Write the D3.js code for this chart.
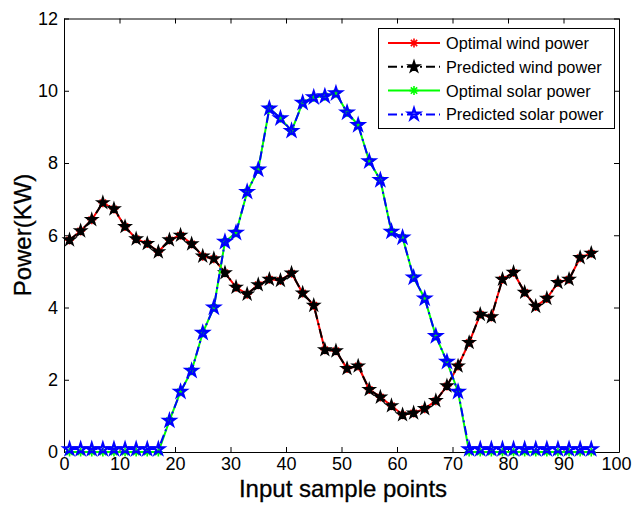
<!DOCTYPE html>
<html>
<head>
<meta charset="utf-8">
<script src="https://cdn.jsdelivr.net/npm/d3@7/dist/d3.min.js"></script>
<style>
  html, body { margin: 0; padding: 0; background: #fff; }
  svg { display: block; font-family: "Liberation Sans", Arial, Helvetica, sans-serif; }
</style>
</head>
<body>
<svg id="chart" width="633" height="507"></svg>
<script>
// ---- Data ----
const samplePoints = d3.range(1, 96, 2); // 1,3,...,95 (48 points)

const optimalWind = [5.87, 6.12, 6.43, 6.9, 6.73, 6.24, 5.9, 5.77, 5.54, 5.87,
  6.0, 5.76, 5.42, 5.35, 4.96, 4.56, 4.37, 4.63, 4.78, 4.75,
  4.95, 4.4, 4.06, 2.83, 2.8, 2.31, 2.38, 1.73, 1.52, 1.28,
  1.03, 1.08, 1.2, 1.42, 1.83, 2.38, 3.03, 3.81, 3.74, 4.78,
  4.97, 4.42, 4.03, 4.25, 4.69, 4.78, 5.38, 5.5];
const predictedWind = optimalWind.slice();

const optimalSolar = [0, 0, 0, 0, 0, 0, 0, 0, 0, 0.87,
  1.67, 2.25, 3.3, 4.0, 5.82, 6.07, 7.2, 7.82, 9.51, 9.24,
  8.89, 9.67, 9.82, 9.85, 9.93, 9.4, 9.05, 8.05, 7.53, 6.1,
  5.94, 4.83, 4.25, 3.21, 2.5, 1.67, 0, 0, 0, 0,
  0, 0, 0, 0, 0, 0, 0, 0];
const predictedSolar = optimalSolar.map(v => v === 0 ? 0.08 : v);

const xTicks = d3.range(0, 101, 10);
const yTicks = d3.range(0, 13, 2);
const legendLabels = ["Optimal wind power", "Predicted wind power", "Optimal solar power", "Predicted solar power"];
const xLabel = "Input sample points";
const yLabel = "Power(KW)";

// ---- Layout ----
const svg = d3.select("#chart");
const L = 64, R = 619, T = 18.5, B = 452;
const x = d3.scaleLinear().domain([0, 100]).range([L, R]);
const y = d3.scaleLinear().domain([0, 12]).range([B, T]);

// axes (inward ticks)
const axB = svg.append("g").attr("transform", `translate(0,${B})`)
  .call(d3.axisBottom(x).tickValues(xTicks).tickSize(-5).tickSizeOuter(0).tickPadding(5));
const axL = svg.append("g").attr("transform", `translate(${L},0)`)
  .call(d3.axisLeft(y).tickValues(yTicks).tickSize(-5).tickSizeOuter(0).tickPadding(6));
svg.append("g").attr("transform", `translate(0,${T})`)
  .call(d3.axisTop(x).tickValues(xTicks).tickSize(-5).tickSizeOuter(0).tickFormat(""));
svg.append("g").attr("transform", `translate(${R},0)`)
  .call(d3.axisRight(y).tickValues(yTicks).tickSize(-5).tickSizeOuter(0).tickFormat(""));
svg.selectAll(".domain").attr("stroke", "#000");
svg.selectAll(".tick line").attr("stroke", "#000");
[axB, axL].forEach(a => a.selectAll("text")
  .attr("font-size", 18).attr("fill", "#000")
  .attr("font-family", "Liberation Sans, Arial, sans-serif"));
axB.selectAll(".tick text").filter(d => d === 100).attr("dx", "-3");

// axis labels
svg.append("text").attr("x", 343).attr("y", 497).attr("text-anchor", "middle")
  .attr("font-size", 24).attr("fill", "#000").attr("stroke", "#000").attr("stroke-width", 0.3).text(xLabel);
svg.append("text").attr("transform", `translate(31,235) rotate(-90)`).attr("text-anchor", "middle")
  .attr("font-size", 24).attr("fill", "#000").attr("stroke", "#000").attr("stroke-width", 0.3).text(yLabel);

// ---- Series ----
const line = d3.line().x((d, i) => x(samplePoints[i])).y(d => y(d));
const dashDot = "9,4,2,4";
const star = d3.symbol().type(d3.symbolStar).size(40);
const asterisk = r => {
  let p = "";
  for (let k = 0; k < 4; k++) {
    const a = k * Math.PI / 4;
    p += `M${-r * Math.cos(a)},${-r * Math.sin(a)}L${r * Math.cos(a)},${r * Math.sin(a)}`;
  }
  return p;
};

const series = [
  { data: optimalWind, color: "#ff0000", dash: null, marker: "ast" },
  { data: predictedWind, color: "#000000", dash: dashDot, marker: "starFill" },
  { data: optimalSolar, color: "#00ff00", dash: null, marker: "ast" },
  { data: predictedSolar, color: "#0000ff", dash: dashDot, marker: "starOpen" }
];

function drawMarker(g, type, color) {
  if (type === "ast") {
    g.append("path").attr("d", asterisk(4.5)).attr("stroke", color).attr("stroke-width", 1.6).attr("fill", "none");
  } else if (type === "starFill") {
    g.append("path").attr("d", star()).attr("fill", color).attr("stroke", color).attr("stroke-width", 1.5);
  } else {
    g.append("path").attr("d", star()).attr("fill", "none").attr("stroke", color).attr("stroke-width", 2.2);
  }
}

series.forEach(s => {
  svg.append("path").datum(s.data).attr("d", line)
    .attr("fill", "none").attr("stroke", s.color).attr("stroke-width", 2)
    .attr("stroke-dasharray", s.dash);
  s.data.forEach((v, i) => {
    const g = svg.append("g").attr("transform", `translate(${x(samplePoints[i])},${y(v)})`);
    drawMarker(g, s.marker, s.color);
  });
});

// ---- Legend ----
const lg = svg.append("g");
lg.append("rect").attr("x", 378.5).attr("y", 28.5).attr("width", 236).attr("height", 100)
  .attr("fill", "#fff").attr("stroke", "#000").attr("stroke-width", 1);
legendLabels.forEach((lab, i) => {
  const cy = 43 + i * 23.8;
  const s = series[i];
  lg.append("line").attr("x1", 388).attr("x2", 440).attr("y1", cy).attr("y2", cy)
    .attr("stroke", s.color).attr("stroke-width", 2).attr("stroke-dasharray", s.dash);
  const g = lg.append("g").attr("transform", `translate(414,${cy})`);
  drawMarker(g, s.marker, s.color);
  lg.append("text").attr("x", 446).attr("y", cy + 6).attr("font-size", 16.3).attr("fill", "#000").text(lab);
});
</script>
</body>
</html>
